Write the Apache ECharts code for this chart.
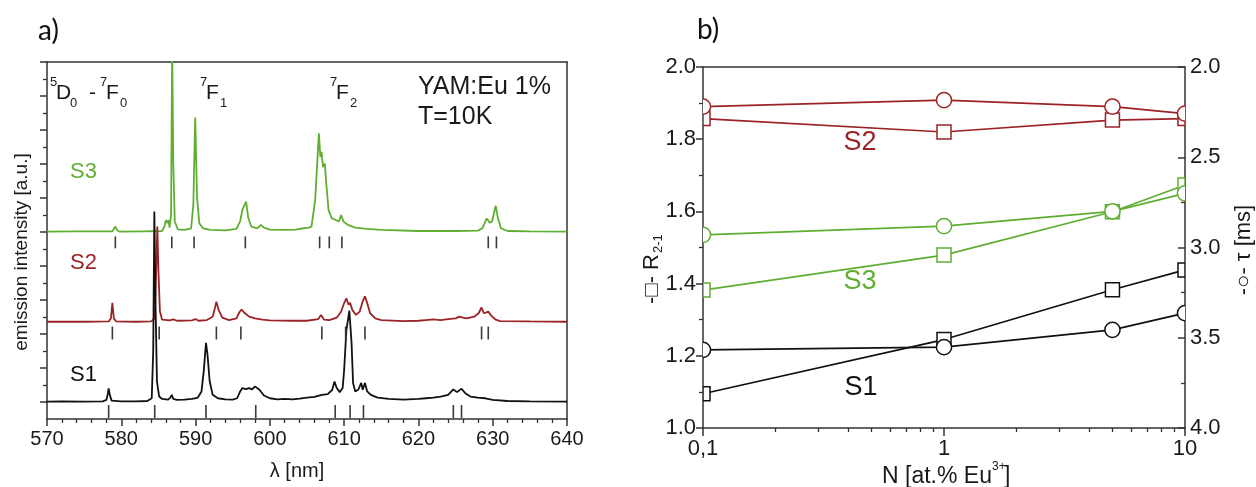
<!DOCTYPE html>
<html>
<head>
<meta charset="utf-8">
<title>YAM:Eu emission spectra and decay data</title>
<script src="https://cdn.jsdelivr.net/npm/echarts@6/dist/echarts.min.js"></script>
<style>
  html, body { margin: 0; padding: 0; background: #fff; }
  #chart { width: 1256px; height: 487px; }
</style>
</head>
<body>
<div id="chart"></div>
<script>
// ---------- panel a) emission spectra, [wavelength nm, intensity above own baseline] ----------
const spectrumS1 = [
  [570, 0.0], [572, 0.01], [575, 0.0], [577.5, 0.01], [578.0, 0.05], [578.2, 0.25], [578.3, 0.39], [578.45, 0.2], [578.7, 0.03],
  [580, 0.01], [582, 0.01], [583.5, 0.02], [584.1, 0.1], [584.3, 1.5], [584.45, 5.59], [584.6, 3.0], [584.8, 0.6], [585.1, 0.15],
  [585.5, 0.08], [586.3, 0.06], [586.6, 0.12], [586.8, 0.2], [587.0, 0.08], [587.5, 0.05], [588.5, 0.06], [589.5, 0.08], [589.9, 0.1],
  [590.3, 0.12], [590.8, 0.3], [591.1, 0.9], [591.4, 1.73], [591.6, 1.4], [591.9, 0.6], [592.3, 0.2], [593, 0.1], [594, 0.07],
  [595, 0.06], [595.6, 0.1], [596, 0.3], [596.3, 0.4], [596.8, 0.37], [597.2, 0.4], [597.6, 0.36], [598.0, 0.45], [598.2, 0.49],
  [598.6, 0.35], [599.2, 0.18], [600, 0.1], [601, 0.07], [602, 0.08], [603, 0.07], [604, 0.09], [605, 0.12], [606, 0.14], [607, 0.2],
  [607.8, 0.22], [608.4, 0.35], [608.7, 0.59], [609.0, 0.4], [609.4, 0.28], [609.8, 0.4], [610.0, 0.93], [610.3, 2.1], [610.7, 2.68],
  [611.0, 1.72], [611.2, 0.55], [611.5, 0.3], [611.9, 0.35], [612.3, 0.55], [612.5, 0.35], [612.8, 0.55], [613.1, 0.3], [613.6, 0.2],
  [614.5, 0.12], [616, 0.08], [618, 0.06], [620, 0.08], [621, 0.1], [622, 0.12], [623, 0.15], [624, 0.2], [624.7, 0.36], [625.2, 0.28],
  [625.8, 0.38], [626.3, 0.25], [627, 0.15], [628, 0.12], [629, 0.1], [630, 0.05], [632, 0.02], [635, 0.01], [640, 0.0]
];
const spectrumS2 = [
  [570, 0], [575, 0], [578.3, 0.01], [578.6, 0.1], [578.8, 0.56], [579.0, 0.1], [579.3, 0.01], [582, 0], [584, 0.01], [584.5, 0.1],
  [584.7, 1.5], [584.85, 2.8], [585.0, 1.5], [585.2, 0.3], [585.5, 0.06], [586.5, 0.04], [587, 0.07], [587.5, 0.03], [589.5, 0.04],
  [590, 0.08], [590.4, 0.03], [591.5, 0.05], [592.3, 0.15], [592.6, 0.4], [592.8, 0.59], [593.1, 0.35], [593.6, 0.12], [594.5, 0.05],
  [595.5, 0.1], [595.9, 0.28], [596.2, 0.36], [596.5, 0.28], [596.7, 0.3], [597.2, 0.15], [598, 0.1], [599, 0.06], [600, 0.04],
  [603, 0.03], [605, 0.03], [606.5, 0.08], [606.9, 0.2], [607.3, 0.06], [608, 0.05], [609, 0.12], [609.6, 0.3], [610.0, 0.55],
  [610.3, 0.69], [610.6, 0.5], [610.8, 0.56], [611.1, 0.35], [611.6, 0.2], [612.1, 0.3], [612.5, 0.6], [612.8, 0.75], [613.1, 0.55],
  [613.5, 0.25], [614.2, 0.1], [615, 0.05], [618, 0.02], [620, 0.03], [621, 0.05], [622, 0.07], [623, 0.05], [624, 0.08], [625, 0.1],
  [625.5, 0.15], [626, 0.12], [626.5, 0.1], [627.5, 0.15], [628.1, 0.25], [628.5, 0.42], [628.8, 0.25], [629.1, 0.27], [629.4, 0.3],
  [629.8, 0.18], [630.4, 0.06], [631, 0.02], [635, 0.01], [640, 0]
];
const spectrumS3 = [
  [570, 0], [574, 0.01], [578.8, 0.01], [579.0, 0.06], [579.2, 0.15], [579.4, 0.05], [579.8, 0], [583, 0.01], [585.5, 0.02],
  [585.8, 0.15], [586.0, 0.34], [586.2, 0.25], [586.35, 0.34], [586.5, 0.12], [586.7, 0.5], [586.85, 5.5], [587.0, 2.0], [587.2, 0.3],
  [587.6, 0.07], [588.5, 0.05], [589.4, 0.1], [589.7, 0.8], [589.95, 3.36], [590.2, 1.0], [590.5, 0.25], [591, 0.1], [592, 0.05],
  [594, 0.04], [595.5, 0.08], [596.0, 0.3], [596.3, 0.64], [596.5, 0.6], [596.8, 0.88], [597.1, 0.4], [597.5, 0.15], [598.3, 0.1],
  [598.8, 0.2], [599.2, 0.12], [600, 0.06], [602, 0.05], [603.5, 0.06], [604.5, 0.1], [605.2, 0.12], [605.6, 0.15], [606.1, 0.93],
  [606.6, 2.89], [606.8, 2.2], [606.95, 2.35], [607.15, 1.9], [607.4, 2.0], [607.6, 1.4], [607.9, 0.64], [608.3, 0.4], [608.8, 0.35],
  [609.3, 0.3], [609.6, 0.49], [609.9, 0.3], [610.5, 0.2], [611.5, 0.12], [613, 0.08], [615, 0.05], [620, 0.02], [625, 0.02],
  [628, 0.03], [628.6, 0.1], [629.2, 0.39], [629.6, 0.26], [629.9, 0.3], [630.4, 0.76], [630.7, 0.4], [631.1, 0.1], [632, 0.02],
  [635, 0.01], [640, 0]
];
// vertical offsets of the stacked spectra
const baselineS1 = 0.51;
const baselineS2 = 2.86;
const baselineS3 = 5.51;
// assigned line positions (nm) marked under each spectrum
const linesS1 = [578.3, 584.5, 591.4, 598.1, 608.8, 610.8, 612.6, 624.7, 625.8];
const linesS2 = [578.8, 585.1, 592.8, 596.1, 607.0, 610.2, 612.8, 628.5, 629.4];
const linesS3 = [579.2, 586.8, 589.8, 596.7, 606.7, 608.0, 609.7, 629.4, 630.5];
const wavelengthTicks = [570, 580, 590, 600, 610, 620, 630, 640];

// ---------- panel b) ratio R2-1 and decay time vs Eu concentration ----------
const concentration = [0.1, 1, 5, 10];
const ratioS1 = [1.095, 1.245, 1.383, 1.438];
const ratioS2 = [1.857, 1.82, 1.853, 1.857];
const ratioS3 = [1.382, 1.479, 1.599, 1.673];
const tauS1 = [3.567, 3.552, 3.456, 3.364];
const tauS2 = [2.22, 2.184, 2.22, 2.258];
const tauS3 = [2.93, 2.882, 2.80, 2.70];
const concMinorTicks = [0.2, 0.3, 0.4, 0.5, 0.6, 0.7, 0.8, 0.9, 2, 3, 4, 5, 6, 7, 8, 9];

const FONT = '"Liberation Sans", Arial, sans-serif';
const AX = '#333';
const TXT = '#1a1a1a';
const C1 = '#111111';
const C2 = '#9b2327';
const C3 = '#5fae31';

const chart = echarts.init(document.getElementById('chart'), null, { renderer: 'canvas' });

const noSplit = { show: false };
const lineAx = { lineStyle: { color: AX, width: 1.5 } };

function offsetSeries(points, base) {
  return points.map(p => [p[0], p[1] + base]);
}

function markerSeries(name, lines, base, top, bottom) {
  return {
    name: name, type: 'custom', xAxisIndex: 0, yAxisIndex: 0, z: 3,
    data: lines.map(x => [x, base]),
    renderItem: function (params, api) {
      const x = api.value(0);
      const b = api.value(1);
      const p1 = api.coord([x, b + top]);
      const p2 = api.coord([x, b + bottom]);
      return { type: 'line', shape: { x1: p1[0], y1: p1[1], x2: p2[0], y2: p2[1] },
               style: { stroke: '#3a3a3a', lineWidth: 1.6 } };
    }
  };
}

function spectrumLine(name, points, base, color) {
  return {
    name: name, type: 'line', xAxisIndex: 0, yAxisIndex: 0, showSymbol: false, symbol: 'none',
    clip: true, data: offsetSeries(points, base),
    lineStyle: { color: color, width: 1.8 }, z: 2
  };
}

function connLine(name, ys, yAxisIndex, color) {
  return {
    name: name, type: 'line', xAxisIndex: 2, yAxisIndex: yAxisIndex, showSymbol: false, symbol: 'none',
    data: concentration.map((c, i) => [c, ys[i]]),
    lineStyle: { color: color, width: 1.7 }, z: 2
  };
}

// hollow point markers, cut at the plot frame like the data they sit on
function pointMarks(name, ys, yAxisIndex, color, shape) {
  return {
    name: name, type: 'custom', xAxisIndex: 2, yAxisIndex: yAxisIndex, clip: true, z: 4,
    data: concentration.map((c, i) => [c, ys[i]]),
    renderItem: function (params, api) {
      const p = api.coord([api.value(0), api.value(1)]);
      const cs = params.coordSys;
      const L = cs.x, R = cs.x + cs.width;
      const stroke = { stroke: color, lineWidth: 1.5, fill: null };
      if (shape === 'circle') {
        const r = 7.6;
        let a0 = 0, a1 = Math.PI * 2;
        if (p[0] - r < L) {
          const a = Math.acos(Math.max(-1, Math.min(1, (L - p[0]) / r)));
          a0 = -a; a1 = a;
        } else if (p[0] + r > R) {
          const a = Math.acos(Math.max(-1, Math.min(1, (R - p[0]) / r)));
          a0 = a; a1 = Math.PI * 2 - a;
        }
        return { type: 'group', children: [
          { type: 'sector', shape: { cx: p[0], cy: p[1], r0: 0, r: r, startAngle: a0, endAngle: a1, clockwise: true },
            style: { fill: '#fff' } },
          { type: 'arc', shape: { cx: p[0], cy: p[1], r: r, startAngle: a0, endAngle: a1, clockwise: true },
            style: stroke }
        ] };
      }
      const h = 7;
      const x0 = Math.max(p[0] - h, L), x1 = Math.min(p[0] + h, R);
      return { type: 'rect', shape: { x: x0, y: p[1] - h, width: x1 - x0, height: 2 * h },
               style: { fill: '#fff', stroke: color, lineWidth: 1.5 } };
    }
  };
}

function txt(x, y, text, size, color, align, family) {
  return {
    type: 'text', x: x, y: y, silent: true,
    style: { text: text, fill: color || TXT, font: size + 'px ' + (family || FONT),
             align: align || 'left', textAlign: align || 'left',
             verticalAlign: 'middle', textVerticalAlign: 'middle' }
  };
}

// spectroscopic term labels with super/subscripts
function term(x, sup, letter, sub) {
  return [
    txt(x, 82, sup, 13),
    txt(x + 6, 93, letter, 21),
    txt(x + 20, 103, sub, 13)
  ];
}

const graphics = [].concat(
  [txt(38, 31, 'a)', 28, '#111', 'left', 'Lato, "Open Sans", sans-serif'),
   txt(697, 30, 'b)', 28, '#111', 'left', 'Lato, "Open Sans", sans-serif')],
  term(50, '5', 'D', '0'),
  [txt(89, 93, '-', 21)],
  term(100, '7', 'F', '0'),
  term(200, '7', 'F', '1'),
  term(330, '7', 'F', '2'),
  [txt(418, 87, 'YAM:Eu 1%', 25),
   txt(418, 117.5, 'T=10K', 25),
   txt(70, 172, 'S3', 22, C3),
   txt(70, 263, 'S2', 22, C2),
   txt(70, 375, 'S1', 22, C1),
   txt(297, 471, 'λ [nm]', 20, TXT, 'center'),
   { type: 'group', x: 22, y: 252, rotation: Math.PI / 2,
     children: [txt(0, 0, 'emission intensity [a.u.]', 19, TXT, 'center')] },
   txt(860, 143, 'S2', 27, C2, 'center'),
   txt(860, 282, 'S3', 27, C3, 'center'),
   txt(861, 388, 'S1', 27, C1, 'center'),
   txt(882, 477, 'N [at.% Eu', 23),
   txt(992, 467, '3+', 12),
   txt(1004, 477, ']', 23),
   { type: 'group', x: 652, y: 270, rotation: Math.PI / 2,
     children: [txt(16, 0, '-□- R', 22, TXT, 'right'), txt(17, 6, '2-1', 13)] },
   { type: 'group', x: 1244, y: 250, rotation: Math.PI / 2,
     children: [txt(0, 0, '-○- τ [ms]', 22, TXT, 'center')] }
  ]
);

const majorY = [];
for (let v = 0.5; v <= 10.5; v += 1) majorY.push(v);
const minorY = [];
for (let v = 1; v <= 10; v += 1) minorY.push(v);

const option = {
  animation: false,
  backgroundColor: '#ffffff',
  grid: [
    { left: 47, top: 62, width: 520, height: 357 },
    { left: 703, top: 67, width: 482, height: 361 }
  ],
  xAxis: [
    { gridIndex: 0, type: 'value', min: 570, max: 640, interval: 10, position: 'bottom',
      axisLine: Object.assign({ onZero: false }, lineAx),
      axisTick: { length: 7, lineStyle: { color: AX, width: 1.5 } },
      minorTick: { show: true, splitNumber: 5, length: 4, lineStyle: { color: AX, width: 1.3 } },
      axisLabel: { fontSize: 20, color: TXT, margin: 10, fontFamily: FONT,
                   formatter: v => (wavelengthTicks.indexOf(v) >= 0 ? String(v) : '') },
      splitLine: noSplit },
    { gridIndex: 0, type: 'value', min: 570, max: 640, position: 'top',
      axisLine: Object.assign({ onZero: false }, lineAx), axisTick: { show: false },
      axisLabel: { show: false }, splitLine: noSplit },
    { gridIndex: 1, type: 'log', logBase: 10, min: 0.1, max: 10, position: 'bottom',
      axisLine: Object.assign({ onZero: false }, lineAx),
      axisTick: { length: 8, lineStyle: { color: AX, width: 1.5 } },
      axisLabel: { fontSize: 22, color: TXT, margin: 10, fontFamily: FONT,
                   formatter: v => (v < 0.5 ? '0,1' : String(Math.round(v))) },
      splitLine: noSplit },
    { gridIndex: 1, type: 'log', logBase: 10, min: 0.1, max: 10, position: 'bottom',
      axisLine: { show: false, onZero: false },
      axisTick: { length: 4, customValues: concMinorTicks, lineStyle: { color: AX, width: 1.3 } },
      axisLabel: { show: false }, splitLine: noSplit },
    { gridIndex: 1, type: 'log', logBase: 10, min: 0.1, max: 10, position: 'top',
      axisLine: Object.assign({ onZero: false }, lineAx), axisTick: { show: false },
      axisLabel: { show: false }, splitLine: noSplit }
  ],
  yAxis: [
    { gridIndex: 0, type: 'value', min: 0, max: 10.5, position: 'left',
      axisLine: Object.assign({ onZero: false }, lineAx),
      axisTick: { length: 7, customValues: majorY, lineStyle: { color: AX, width: 1.5 } },
      axisLabel: { show: false }, splitLine: noSplit },
    { gridIndex: 0, type: 'value', min: 0, max: 10.5, position: 'left',
      axisLine: { show: false, onZero: false },
      axisTick: { length: 4, customValues: minorY, lineStyle: { color: AX, width: 1.3 } },
      axisLabel: { show: false }, splitLine: noSplit },
    { gridIndex: 0, type: 'value', min: 0, max: 10.5, position: 'right',
      axisLine: Object.assign({ onZero: false }, lineAx), axisTick: { show: false },
      axisLabel: { show: false }, splitLine: noSplit },
    { gridIndex: 1, type: 'value', min: 1.0, max: 2.0, interval: 0.2, position: 'left',
      axisLine: Object.assign({ onZero: false }, lineAx),
      axisTick: { length: 7, lineStyle: { color: AX, width: 1.5 } },
      minorTick: { show: true, splitNumber: 2, length: 4, lineStyle: { color: AX, width: 1.3 } },
      axisLabel: { fontSize: 22, color: TXT, margin: 7, fontFamily: FONT, formatter: v => v.toFixed(1) },
      splitLine: noSplit },
    { gridIndex: 1, type: 'value', min: 2.0, max: 4.0, interval: 0.5, inverse: true, position: 'right',
      axisLine: Object.assign({ onZero: false }, lineAx),
      axisTick: { inside: true, length: 7, lineStyle: { color: AX, width: 1.5 } },
      minorTick: { show: true, splitNumber: 2, length: 4, lineStyle: { color: AX, width: 1.3 } },
      axisLabel: { fontSize: 22, color: TXT, margin: 5, fontFamily: FONT, formatter: v => v.toFixed(1) },
      splitLine: noSplit }
  ],
  graphic: graphics,
  series: [
    spectrumLine('S3', spectrumS3, baselineS3, C3),
    spectrumLine('S2', spectrumS2, baselineS2, C2),
    spectrumLine('S1', spectrumS1, baselineS1, C1),
    markerSeries('S3 lines', linesS3, baselineS3, -0.14, -0.49),
    markerSeries('S2 lines', linesS2, baselineS2, -0.14, -0.52),
    markerSeries('S1 lines', linesS1, baselineS1, -0.10, -0.48),
    connLine('S2 R', ratioS2, 3, C2),
    connLine('S2 tau', tauS2, 4, C2),
    connLine('S3 R', ratioS3, 3, C3),
    connLine('S3 tau', tauS3, 4, C3),
    connLine('S1 R', ratioS1, 3, C1),
    connLine('S1 tau', tauS1, 4, C1),
    pointMarks('S2 R pts', ratioS2, 3, C2, 'rect'),
    pointMarks('S2 tau pts', tauS2, 4, C2, 'circle'),
    pointMarks('S3 R pts', ratioS3, 3, C3, 'rect'),
    pointMarks('S3 tau pts', tauS3, 4, C3, 'circle'),
    pointMarks('S1 R pts', ratioS1, 3, C1, 'rect'),
    pointMarks('S1 tau pts', tauS1, 4, C1, 'circle')
  ]
};

chart.setOption(option);
</script>
</body>
</html>
